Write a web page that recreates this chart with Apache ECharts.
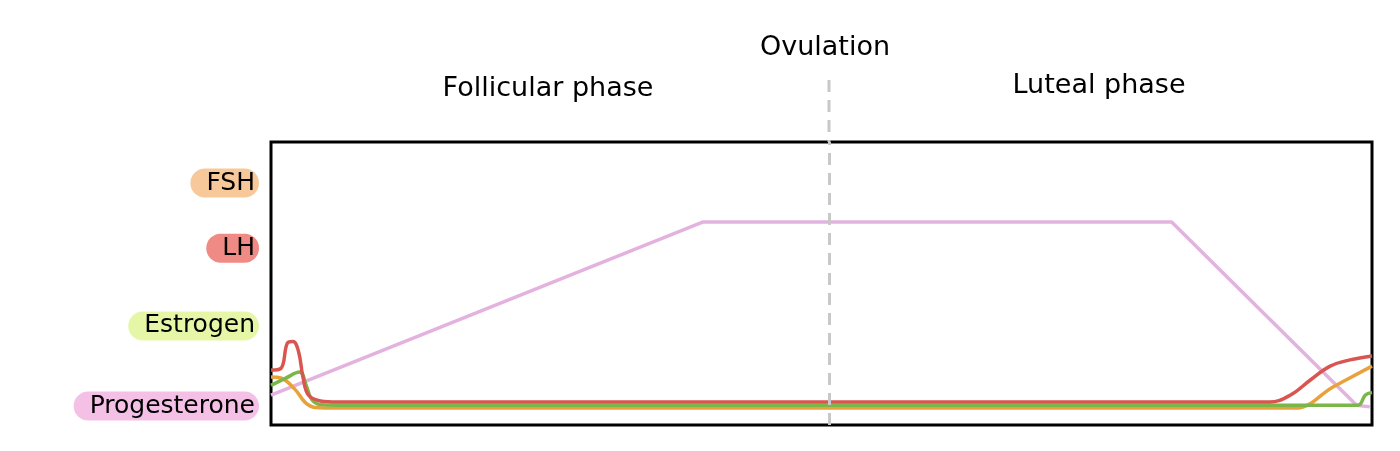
<!DOCTYPE html><html><head><meta charset="utf-8"><script src="https://cdn.jsdelivr.net/npm/echarts@6/dist/echarts.min.js"></script></head><body style="margin:0;background:#fff"><div id="c" style="width:1400px;height:451px"></div><script>
const progesterone=[[0,10.6],[39.2,71.7],[81.8,71.7],[98.6,7],[99.8,6.4]];
const lh=[[0,19.4],[0.9,20],[1.5,29],[2,29.5],[2.5,26],[2.9,17],[3.4,10.6],[4.5,8.5],[6,8.1],[50,8.1],[90.7,8.1],[92.6,10.6],[94.4,15.9],[96.2,20.8],[98,23],[100,24.4]];
const fsh=[[0,17],[0.9,16.6],[2.2,12.5],[3.1,8],[4,6.2],[6,6],[50,6],[93,6],[96.5,13.5],[100,20.8]];
const estrogen=[[0,14],[1.3,16.5],[2.6,18.7],[3.2,14],[3.7,9],[4.5,7.2],[6,7],[50,7],[98.7,7],[99.4,10.6],[100,11.5]];
const labelNames=['FSH','LH','Estrogen','Progesterone'];
const labelY=[85.5,62.5,35,6.7];
const labelBg=['#f7c99a','#f08a85','#e5f7a6','#f5c0e6'];
const ovulationX=50.7;
const F='"DejaVu Sans", sans-serif';
const ch=echarts.init(document.getElementById('c'));
function ln(name,data,color,smooth){return {name,type:'line',data,symbol:'none',smooth,lineStyle:{color,width:3.5},z:3};}
ch.setOption({
 animation:false,
 grid:{left:271,right:28,top:142,bottom:26,show:true,borderColor:'#000',borderWidth:3},
 xAxis:{type:'value',min:0,max:100,show:false},
 yAxis:{type:'value',min:0,max:100,show:false},
 series:[
  ln('Progesterone',progesterone,'#e2b3df',false),
  ln('FSH',fsh,'#e9a23b',0.4),
  ln('Estrogen',estrogen,'#7ab648',0.4),
  Object.assign(ln('LH',lh,'#d95650',0.4),{markLine:{silent:true,symbol:'none',label:{show:false},lineStyle:{color:'#c8c8c8',type:[12,8],width:3},data:[{xAxis:ovulationX}]}}),
  {type:'scatter',symbolSize:0,clip:false,data:labelNames.map((n,i)=>({value:[0,labelY[i]],name:n,label:{backgroundColor:labelBg[i]}})),
   label:{show:true,position:'left',distance:12,formatter:'{b}',color:'#000',opacity:1,fontFamily:F,fontSize:25,padding:[3,4,1,16],borderRadius:16}}
 ],
 graphic:[
  {type:'line',shape:{x1:829,y1:80,x2:829,y2:142},style:{stroke:'#c8c8c8',lineWidth:3,lineDash:[12,8]}},
  {type:'text',style:{text:'Ovulation',x:825,y:48,align:'center',verticalAlign:'middle',font:'27px '+F,fill:'#000'}},
  {type:'text',style:{text:'Follicular phase',x:548,y:89,align:'center',verticalAlign:'middle',font:'27px '+F,fill:'#000'}},
  {type:'text',style:{text:'Luteal phase',x:1099,y:86,align:'center',verticalAlign:'middle',font:'27px '+F,fill:'#000'}}
 ]
});
</script></body></html>
